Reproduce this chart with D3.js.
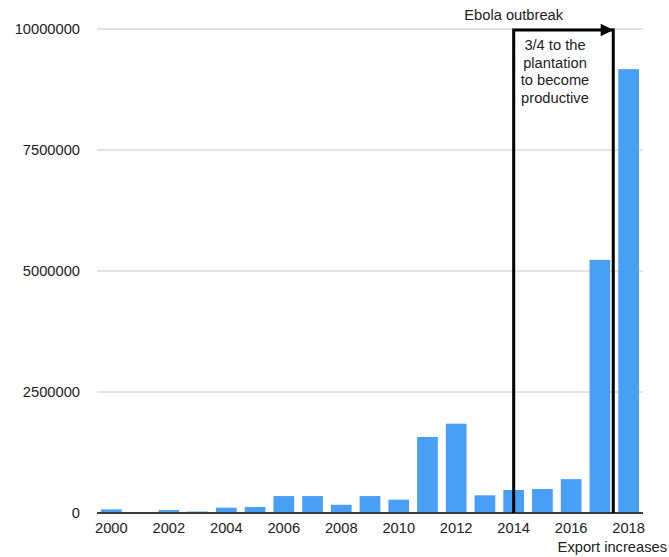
<!DOCTYPE html>
<html>
<head>
<meta charset="utf-8">
<script src="https://cdn.jsdelivr.net/npm/d3@7"></script>
<style>
  body { margin: 0; background: #fff; }
  text { font-family: "Liberation Sans", Arial, sans-serif; fill: #222; }
</style>
</head>
<body>
<svg id="chart" width="669" height="557"></svg>
<script>
// data
var years = [2000, 2001, 2002, 2003, 2004, 2005, 2006, 2007, 2008, 2009,
             2010, 2011, 2012, 2013, 2014, 2015, 2016, 2017, 2018];
var exportValues = [75000, 0, 60000, 30000, 110000, 125000, 350000, 350000, 170000, 350000,
                    275000, 1570000, 1845000, 365000, 475000, 496000, 700000, 5230000, 9170000];
var yTicks = [0, 2500000, 5000000, 7500000, 10000000];
var xTickYears = [2000, 2002, 2004, 2006, 2008, 2010, 2012, 2014, 2016, 2018];
var noteLines = ["3/4 to the", "plantation", "to become", "productive"];

var svg = d3.select('#chart');
var plotLeft = 97, plotRight = 643, plotTop = 29, plotBottom = 513;
var fontSize = 14.7;

var x = d3.scaleBand()
    .domain(years)
    .range([plotLeft, plotRight])
    .paddingInner(0.28)
    .paddingOuter(0.14);

var y = d3.scaleLinear()
    .domain([0, 10000000])
    .range([plotBottom, plotTop]);

// gridlines
svg.append('g')
    .selectAll('line')
    .data(yTicks.slice(1))
    .join('line')
    .attr('x1', plotLeft)
    .attr('x2', plotRight)
    .attr('y1', function(d) { return y(d); })
    .attr('y2', function(d) { return y(d); })
    .attr('stroke', '#c6c6c6')
    .attr('stroke-width', 1);

// y labels
var yAxis = svg.append('g')
    .attr('transform', 'translate(' + (plotLeft - 17) + ',0)')
    .call(d3.axisLeft(y).tickValues(yTicks).tickSize(0).tickPadding(0).tickFormat(d3.format('d')));
yAxis.select('.domain').remove();
yAxis.selectAll('text')
    .attr('font-size', fontSize)
    .attr('font-family', '"Liberation Sans", Arial, sans-serif')
    .attr('fill', '#222');

// bars
svg.append('g')
    .selectAll('rect')
    .data(years)
    .join('rect')
    .attr('x', function(d) { return x(d); })
    .attr('width', x.bandwidth())
    .attr('y', function(d, i) { return y(exportValues[i]); })
    .attr('height', function(d, i) { return plotBottom - y(exportValues[i]); })
    .attr('fill', '#489ff5');

// x axis
var xAxis = svg.append('g')
    .attr('transform', 'translate(0,' + plotBottom + ')')
    .call(d3.axisBottom(x).tickValues(xTickYears).tickSize(0).tickPadding(10));
xAxis.select('.domain').remove();
xAxis.selectAll('text')
    .attr('font-size', fontSize)
    .attr('font-family', '"Liberation Sans", Arial, sans-serif')
    .attr('fill', '#222');

svg.append('line')
    .attr('x1', plotLeft)
    .attr('x2', plotRight)
    .attr('y1', plotBottom)
    .attr('y2', plotBottom)
    .attr('stroke', '#3a3a3a')
    .attr('stroke-width', 2);

// annotation: bracket from 2014 to the 2017/2018 boundary
var xa = x(2014) + x.bandwidth() / 2;
var xb = x(2018) - (x.step() - x.bandwidth()) / 2 - 1;
var ya = y(10000000) + 1;

svg.append('defs').append('marker')
    .attr('id', 'arrow')
    .attr('viewBox', '0 0 10 10')
    .attr('refX', 10)
    .attr('refY', 5)
    .attr('markerWidth', 5.2)
    .attr('markerHeight', 4.2)
    .attr('markerUnits', 'strokeWidth')
    .attr('orient', 'auto')
    .append('path')
    .attr('d', 'M0,0 L10,5 L0,10 Z')
    .attr('fill', '#000');

svg.append('path')
    .attr('d', 'M' + xa + ',' + plotBottom + ' L' + xa + ',' + ya + ' L' + xb + ',' + ya)
    .attr('fill', 'none')
    .attr('stroke', '#000')
    .attr('stroke-width', 3)
    .attr('marker-end', 'url(#arrow)');

svg.append('line')
    .attr('x1', xb)
    .attr('x2', xb)
    .attr('y1', ya - 1.5)
    .attr('y2', plotBottom)
    .attr('stroke', '#000')
    .attr('stroke-width', 3);

svg.append('text')
    .attr('x', xa)
    .attr('y', 20)
    .attr('text-anchor', 'middle')
    .attr('font-size', fontSize)
    .text('Ebola outbreak');

svg.append('g')
    .selectAll('text')
    .data(noteLines)
    .join('text')
    .attr('x', 555)
    .attr('y', function(d, i) { return 50 + i * 17.5; })
    .attr('text-anchor', 'middle')
    .attr('font-size', fontSize)
    .text(function(d) { return d; });

svg.append('text')
    .attr('x', 667)
    .attr('y', 552)
    .attr('text-anchor', 'end')
    .attr('font-size', fontSize)
    .text('Export increases');
</script>
</body>
</html>
